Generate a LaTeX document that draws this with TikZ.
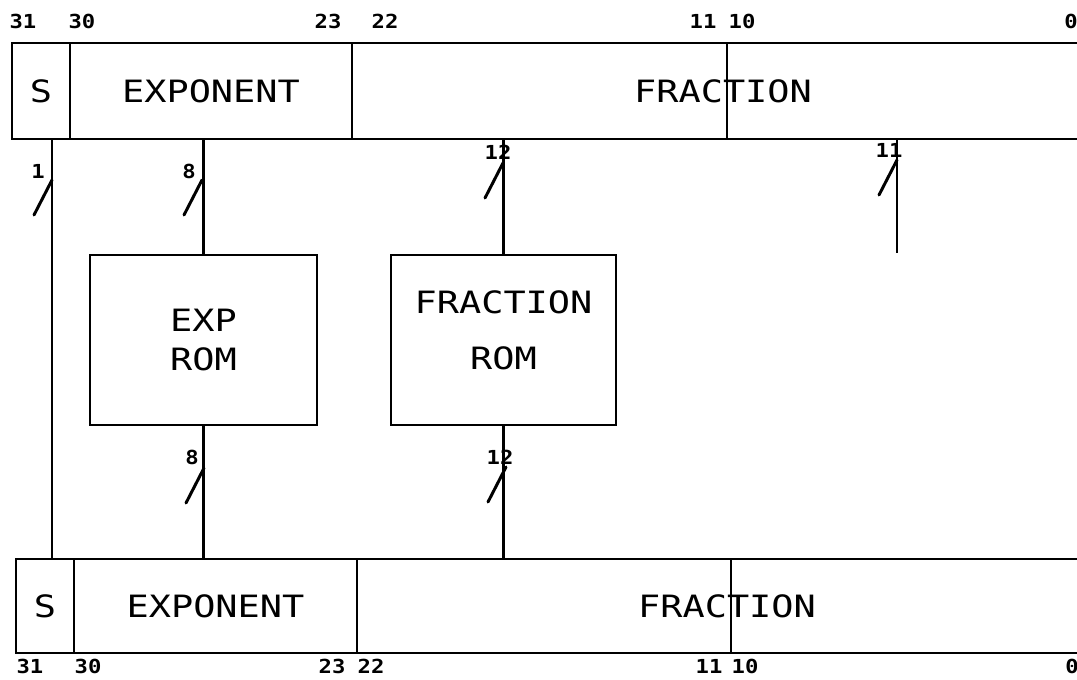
\documentclass[tikz,border=0pt]{standalone}
\usepackage{fontspec}
\setmainfont{DejaVu Sans}
\newfontfamily\plotfont[FakeStretch=1.2]{DejaVu Sans Mono}
\newfontfamily\bitfont[FakeStretch=1.15]{DejaVu Sans Mono}
\usetikzlibrary{positioning,calc}

\tikzset{
  field/.style={draw, line width=1.6pt, inner sep=0pt, outer sep=0pt,
                font=\plotfont\fontsize{17.5}{20}\selectfont},
  fieldtext/.style={inner sep=0pt, font=\plotfont\fontsize{17.5}{20}\selectfont},
  rom/.style={draw, line width=1.3pt, minimum height=3.4cm, inner sep=0pt, outer sep=0pt,
              align=center, font=\plotfont\fontsize{17.5}{20}\selectfont},
  wire/.style={line width=1.3pt},
  busmark/.style={line width=1.7pt, line cap=round},
  bitno/.style={inner sep=0pt, font=\bitfont\bfseries\fontsize{11}{11}\selectfont},
}

\begin{document}
\begin{tikzpicture}[x=0.02cm, y=-0.02cm]
  \useasboundingbox (0,0) rectangle (1077,679);

  % input word
  \node[field, minimum width=1.16cm, minimum height=1.92cm] (tS) at (41,91) {S};
  \node[field, minimum width=5.64cm, minimum height=1.92cm] (tE) at (211,91) {EXPONENT};
  \node[field, minimum width=7.5cm, minimum height=1.92cm] (tF) at (539.5,91) {};
  \draw[line width=1.6pt] (tF.north east) -- (tF.north east -| 1077,0)
                          (tF.south east) -- (tF.south east -| 1077,0);
  \node[fieldtext] (tFrac) at (723,91) {FRACTION};

  % output word
  \node[field, minimum width=1.16cm, minimum height=1.88cm] (bS) at (45,606) {S};
  \node[field, minimum width=5.66cm, minimum height=1.88cm] (bE) at (215.5,606) {EXPONENT};
  \node[field, minimum width=7.48cm, minimum height=1.88cm] (bF) at (544,606) {};
  \draw[line width=1.6pt] (bF.north east) -- (bF.north east -| 1077,0)
                          (bF.south east) -- (bF.south east -| 1077,0);
  \node[fieldtext] (bFrac) at (727,606) {FRACTION};

  % bit positions
  \foreach \n/\x in {31/23, 30/82, 23/328, 22/385, 11/703, 10/742, 0/1071}
    \node[bitno] (top\n) at (\x,21) {\n};
  \foreach \n/\x in {31/30, 30/88, 23/332, 22/371, 11/709, 10/745, 0/1072}
    \node[bitno] (bot\n) at (\x,666) {\n};

  % look-up tables
  \node[rom, minimum width=4.54cm] (expRom) at (203.5,340) {EXP\\[2pt]ROM};
  \node[rom, minimum width=4.5cm] (fracRom) at (503.5,340) {};
  \node[fieldtext, align=center, yshift=0.2cm] (fracRomTxt) at (fracRom.center)
       {FRACTION\\[12pt]ROM};

  % buses
  \draw[wire] (tS.south -| 52,0) -- (bS.north -| 52,0);
  \draw[wire] (expRom.north |- tE.south) -- (expRom.north);
  \draw[wire] (expRom.south) -- (expRom.south |- bE.north);
  \draw[wire] (fracRom.north |- tF.south) -- (fracRom.north);
  \draw[wire] (fracRom.south) -- (fracRom.south |- bF.north);
  \coordinate (lowEnd) at (897,253);
  \draw[wire] (lowEnd |- tF.south) -- (lowEnd);

  % bus widths
  \foreach \x/\y/\lx/\ly/\w in {52/180/38/171/1, 202/180/189/171/8, 503/163/498/152/12,
                                897/160/889/150/11, 204/468/192/457/8, 506/467/500/457/12} {
    \draw[busmark] (\x,\y) -- ++(-18,35);
    \node[bitno] (w\x\y) at (\lx,\ly) {\w};
  }
\end{tikzpicture}
\end{document}
